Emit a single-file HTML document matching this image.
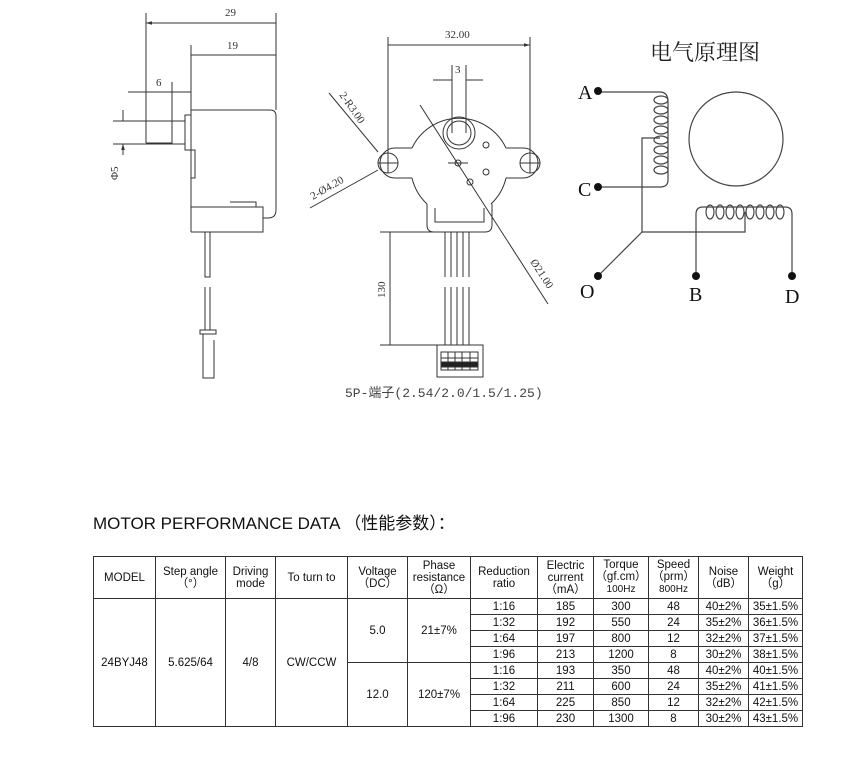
<!DOCTYPE html>
<html><head><meta charset="utf-8"><style>
body{margin:0;background:#fff;width:850px;height:759px;position:relative;overflow:hidden;font-family:"Liberation Sans","Noto Sans CJK SC",sans-serif}
svg{position:absolute;left:0;top:0}
.t{position:absolute;left:93px;top:509px;font-size:17px;color:#111}
table{position:absolute;left:93px;top:556px;border-collapse:collapse;font-size:11.5px;color:#111;table-layout:fixed}
td{border:1px solid #333;text-align:center;padding:0;line-height:12px}
tr.h td{height:41px}
tr.b td{height:15px}
</style></head><body>
<svg width="850" height="420" viewBox="0 0 850 420" fill="none" stroke="#333" stroke-width="1">
<defs><marker id="ar" viewBox="0 0 10 10" refX="10" refY="5" markerWidth="6" markerHeight="6" orient="auto-start-reverse"><path d="M0 2L10 5L0 8Z" fill="#333" stroke="none"/></marker></defs>
<g font-family="Liberation Serif,serif" font-size="11" fill="#333" stroke="none">
<text x="225" y="16">29</text><text x="227" y="49">19</text><text x="156" y="86">6</text>
<text x="445" y="38">32.00</text><text x="455" y="73">3</text>
<text transform="translate(118,180) rotate(-90)">Φ5</text>
<text transform="translate(385,298) rotate(-90)">130</text>
<text transform="translate(339,95) rotate(55)">2-R3.00</text>
<text transform="translate(313,200) rotate(-30)">2-Ø4.20</text>
<text transform="translate(530,262) rotate(57)">Ø21.00</text>
</g>
<!-- side view -->
<path d="M146 13V143M276 13V110M191 45V110M172 82V143M113 121H185M113 144H185M146 121H172V143H146"/>
<path d="M146 23H276M191 55H276M390 232V345M388 45H530" marker-start="url(#ar)" marker-end="url(#ar)"/>
<path d="M128 92H146M191 92H172M433 80H452M483 80H466M123 110V121M123 155V144" marker-end="url(#ar)"/>
<path d="M146 92H172"/>
<path d="M185 115H191V150H185Z M191 110H270Q276 110 276 116V210Q276 218 268 218H263 M191 110V232 M191 150H195V178H191 M191 207H263V232H191 M230 202H256V207 M205 232V277H210V232 M205 287V330H210V287 M200 330H216V334H200Z M203 334V378H214V340"/>
<!-- front view -->
<path d="M388 37V163M530 37V163M452 65V133M466 65V133"/>
<circle cx="459" cy="133" r="16"/><circle cx="459" cy="133" r="12"/>
<path d="M412 148A52 52 0 0 1 506 148 M412 178A52 52 0 0 0 427 204 M506 178A52 52 0 0 1 491 204"/>
<path d="M412 148H395A14 14 0 0 0 395 178H412 M506 148H523A14 14 0 0 1 523 178H506"/>
<circle cx="388" cy="163" r="10"/><circle cx="530" cy="163" r="10"/>
<path d="M378 163H398M388 153V173M520 163H540M530 153V173"/>
<path d="M427 204V225Q427 232 434 232H485Q492 232 492 225V204 M435 208V222H484V208"/>
<circle cx="458" cy="163" r="3"/><circle cx="486" cy="145" r="3"/><circle cx="486" cy="172" r="3"/><circle cx="470" cy="182" r="3"/>
<path d="M448 163H468"/>
<path d="M445 232V277M451 232V277M457 232V277M463 232V277M469 232V277M445 287V345M451 287V345M457 287V345M463 287V345M469 287V345"/>
<rect x="437" y="345" width="46" height="32"/>
<path d="M441 352H478V370H441Z M441 358H478M448 352V370M455 352V370M462 352V370M470 352V370"/>
<path d="M441 362H478V367H441Z" fill="#222"/>
<path d="M380 232H440M380 345H440"/>
<path d="M329 93L378 152M310 208L378 170M420 105L548 304"/>
<!-- schematic -->
<g stroke="#444" stroke-width="1.2">
<circle cx="736" cy="139" r="47"/>
<path d="M598 92H660Q668 92 668 102V180Q668 187 660 187H598"/>
<g>
<ellipse cx="661" cy="100" rx="7" ry="4"/><ellipse cx="661" cy="110" rx="7" ry="4"/><ellipse cx="661" cy="120" rx="7" ry="4"/><ellipse cx="661" cy="130" rx="7" ry="4"/><ellipse cx="661" cy="140" rx="7" ry="4"/><ellipse cx="661" cy="150" rx="7" ry="4"/><ellipse cx="661" cy="160" rx="7" ry="4"/><ellipse cx="661" cy="170" rx="7" ry="4"/>
</g>
<path d="M660 138H642V232H745V212 M598 276L642 232"/>
<path d="M696 276V214Q696 207 703 207H785Q792 207 792 214V276"/>
<g>
<ellipse cx="710" cy="212" rx="4" ry="7"/><ellipse cx="720" cy="212" rx="4" ry="7"/><ellipse cx="730" cy="212" rx="4" ry="7"/><ellipse cx="740" cy="212" rx="4" ry="7"/><ellipse cx="750" cy="212" rx="4" ry="7"/><ellipse cx="760" cy="212" rx="4" ry="7"/><ellipse cx="770" cy="212" rx="4" ry="7"/><ellipse cx="780" cy="212" rx="4" ry="7"/>
</g>
</g>
<g fill="#111" stroke="none">
<circle cx="598" cy="91" r="4"/><circle cx="598" cy="187" r="4"/><circle cx="598" cy="276" r="4"/><circle cx="696" cy="276" r="4"/><circle cx="792" cy="276" r="4"/>
<g font-family="Liberation Serif,serif" font-size="20">
<text x="578" y="99">A</text><text x="578" y="196">C</text><text x="580" y="298">O</text><text x="689" y="301">B</text><text x="785" y="303">D</text>
</g>
<text x="650" y="60" font-family="Noto Serif CJK SC,serif" font-size="22" fill="#222">电气原理图</text>
<text x="345" y="397" font-family="Liberation Mono,Noto Sans CJK SC,monospace" font-size="13" fill="#444">5P-端子(2.54/2.0/1.5/1.25)</text>
</g>
</svg>
<div class="t">MOTOR PERFORMANCE DATA （性能参数）：</div>
<table>
<colgroup><col style="width:62px"><col style="width:70px"><col style="width:50px"><col style="width:72px"><col style="width:60px"><col style="width:63px"><col style="width:67px"><col style="width:56px"><col style="width:55px"><col style="width:50px"><col style="width:50px"><col style="width:54px"></colgroup>
<tr class="h"><td>MODEL</td><td>Step angle<br>（°）</td><td>Driving<br>mode</td><td>To turn to</td><td>Voltage<br>（DC）</td><td>Phase<br>resistance<br>（Ω）</td><td>Reduction<br>ratio</td><td>Electric<br>current<br>（mA）</td><td>Torque<br>（gf.cm）<br><span style="font-size:10px">100Hz</span></td><td>Speed<br>（prm）<br><span style="font-size:10px">800Hz</span></td><td>Noise<br>（dB）</td><td>Weight<br>（g）</td></tr>
<tr class="b"><td rowspan="8">24BYJ48</td><td rowspan="8">5.625/64</td><td rowspan="8">4/8</td><td rowspan="8">CW/CCW</td><td rowspan="4">5.0</td><td rowspan="4">21±7%</td><td>1:16</td><td>185</td><td>300</td><td>48</td><td>40±2%</td><td>35±1.5%</td></tr>
<tr class="b"><td>1:32</td><td>192</td><td>550</td><td>24</td><td>35±2%</td><td>36±1.5%</td></tr>
<tr class="b"><td>1:64</td><td>197</td><td>800</td><td>12</td><td>32±2%</td><td>37±1.5%</td></tr>
<tr class="b"><td>1:96</td><td>213</td><td>1200</td><td>8</td><td>30±2%</td><td>38±1.5%</td></tr>
<tr class="b"><td rowspan="4">12.0</td><td rowspan="4">120±7%</td><td>1:16</td><td>193</td><td>350</td><td>48</td><td>40±2%</td><td>40±1.5%</td></tr>
<tr class="b"><td>1:32</td><td>211</td><td>600</td><td>24</td><td>35±2%</td><td>41±1.5%</td></tr>
<tr class="b"><td>1:64</td><td>225</td><td>850</td><td>12</td><td>32±2%</td><td>42±1.5%</td></tr>
<tr class="b"><td>1:96</td><td>230</td><td>1300</td><td>8</td><td>30±2%</td><td>43±1.5%</td></tr>
</table>
</body></html>
